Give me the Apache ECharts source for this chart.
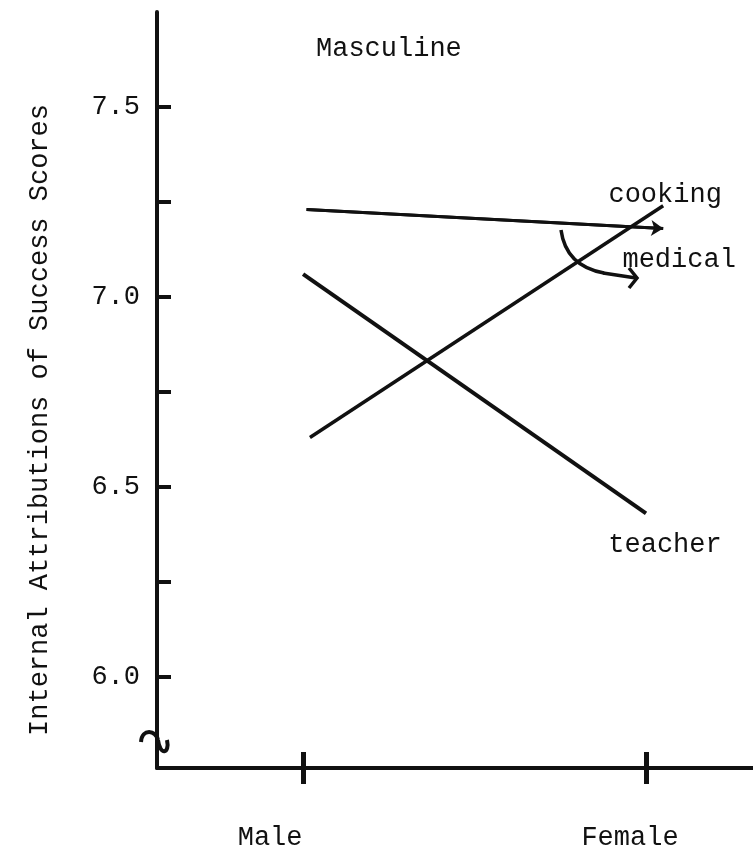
<!DOCTYPE html>
<html>
<head>
<meta charset="utf-8">
<title>Masculine</title>
<script src="https://cdn.jsdelivr.net/npm/echarts@6/dist/echarts.min.js"></script>
<style>
  html, body { margin: 0; padding: 0; background: #fff; }
  #chart { width: 753px; height: 857px; }
</style>
</head>
<body>
<div id="chart"></div>
<script>
// x轴分组
const groups = ['Male', 'Female']
const groupX = [1, 2]

// y轴刻度和标签
const yTicks = [6.0, 6.25, 6.5, 6.75, 7.0, 7.25, 7.5]
const yLabels = [6.0, 6.5, 7.0, 7.5]

// 三条线 (Male -> Female)
const medical = [7.23, 7.18]
const cooking = [6.63, 7.24]
const teacher = [7.06, 6.43]

// 线条在x轴上的起止位置 (cooking/medical 画得比 Female 稍长)
const medicalX = [1.01, 2.05]
const cookingX = [1.02, 2.05]
const teacherX = [1.0, 2.0]

const ink = '#111'
const font = "'Courier New', 'Liberation Mono', monospace"

function pairs(xs, ys) {
  return xs.map((x, i) => [x, ys[i]])
}

let myChart = echarts.init(document.getElementById('chart'))

let xBase = {
  type: 'value',
  min: 0.574,
  max: 2.312,
  splitLine: { show: false },
}

let labelBase = {
  show: true,
  formatter: '{a}',
  align: 'center',
  verticalAlign: 'middle',
  distance: 0,
  fontFamily: font,
  fontSize: 27,
  color: ink,
}

let option = {
  animation: false,
  backgroundColor: '#fff',
  textStyle: { fontFamily: font, color: ink },
  title: {
    text: 'Masculine',
    left: 311,
    top: 30,
    textStyle: { fontFamily: font, fontSize: 27, fontWeight: 'normal', color: ink },
  },
  grid: {
    left: 157,
    right: 0,
    top: 12,
    bottom: 89,
  },
  xAxis: [
    {
      ...xBase,
      axisLine: { lineStyle: { color: ink, width: 4 } },
      axisTick: {
        customValues: groupX,
        length: 16,
        lineStyle: { color: ink, width: 5 },
      },
      axisLabel: {
        customValues: groupX,
        margin: 56,
        formatter: (v) => (v === 1 ? '{m|' + groups[0] + '}' : '{f|' + groups[1] + '}'),
        rich: {
          m: { fontFamily: font, fontSize: 27, color: ink, padding: [0, 66, 0, 0] },
          f: { fontFamily: font, fontSize: 27, color: ink, padding: [0, 32, 0, 0] },
        },
      },
    },
    {
      // 向上的一半刻度
      ...xBase,
      position: 'bottom',
      axisLine: { show: false },
      axisTick: {
        customValues: groupX,
        inside: true,
        length: 16,
        lineStyle: { color: ink, width: 5 },
      },
      axisLabel: { show: false },
    },
  ],
  yAxis: {
    type: 'value',
    min: 5.76,
    max: 7.75,
    name: 'Internal Attributions of Success Scores',
    nameLocation: 'middle',
    nameGap: 104,
    nameTextStyle: { fontFamily: font, fontSize: 27, color: ink, padding: [0, 60, 0, 0] },
    splitLine: { show: false },
    axisLine: { show: true, lineStyle: { color: ink, width: 4 } },
    axisTick: {
      customValues: yTicks,
      inside: true,
      length: 14,
      lineStyle: { color: ink, width: 4 },
    },
    axisLabel: {
      customValues: yLabels,
      margin: 17,
      fontFamily: font,
      fontSize: 27,
      color: ink,
      formatter: (v) => v.toFixed(1),
    },
  },
  series: [
    {
      name: 'medical',
      type: 'line',
      data: pairs(medicalX, medical),
      showSymbol: false,
      lineStyle: { color: ink, width: 3 },
      endLabel: { ...labelBase, offset: [16, 31] },
      markLine: {
        silent: true,
        symbol: ['none', 'arrow'],
        symbolSize: 12,
        label: { show: false },
        lineStyle: { color: ink, width: 3, type: 'solid' },
        data: [[{ coord: pairs(medicalX, medical)[0] }, { coord: pairs(medicalX, medical)[1] }]],
      },
    },
    {
      name: 'cooking',
      type: 'line',
      data: pairs(cookingX, cooking),
      showSymbol: false,
      lineStyle: { color: ink, width: 3.5 },
      endLabel: { ...labelBase, offset: [2, -11] },
    },
    {
      name: 'teacher',
      type: 'line',
      data: pairs(teacherX, teacher),
      showSymbol: false,
      lineStyle: { color: ink, width: 4 },
      endLabel: { ...labelBase, offset: [19, 31] },
    },
  ],
  graphic: [
    {
      // 指向 medical 的弯箭头
      type: 'bezierCurve',
      shape: { x1: 561, y1: 230, cpx1: 564, cpy1: 252, cpx2: 576, cpy2: 268, x2: 604, y2: 273 },
      style: { fill: 'none', stroke: ink, lineWidth: 3.5 },
    },
    {
      type: 'polyline',
      shape: { points: [[603, 273], [636, 278]] },
      style: { fill: 'none', stroke: ink, lineWidth: 3.5 },
    },
    {
      type: 'polyline',
      shape: { points: [[629, 268], [637, 278], [629, 288]] },
      style: { fill: 'none', stroke: ink, lineWidth: 3.5 },
    },
    {
      // y轴断开符号
      type: 'bezierCurve',
      shape: { x1: 141, y1: 742, cpx1: 142, cpy1: 728, cpx2: 156, cpy2: 730, x2: 158, y2: 740 },
      style: { fill: 'none', stroke: ink, lineWidth: 4 },
    },
    {
      type: 'bezierCurve',
      shape: { x1: 158, y1: 740, cpx1: 160, cpy1: 756, cpx2: 170, cpy2: 754, x2: 167, y2: 740 },
      style: { fill: 'none', stroke: ink, lineWidth: 4 },
    },
  ],
}

myChart.setOption(option)
</script>
</body>
</html>
